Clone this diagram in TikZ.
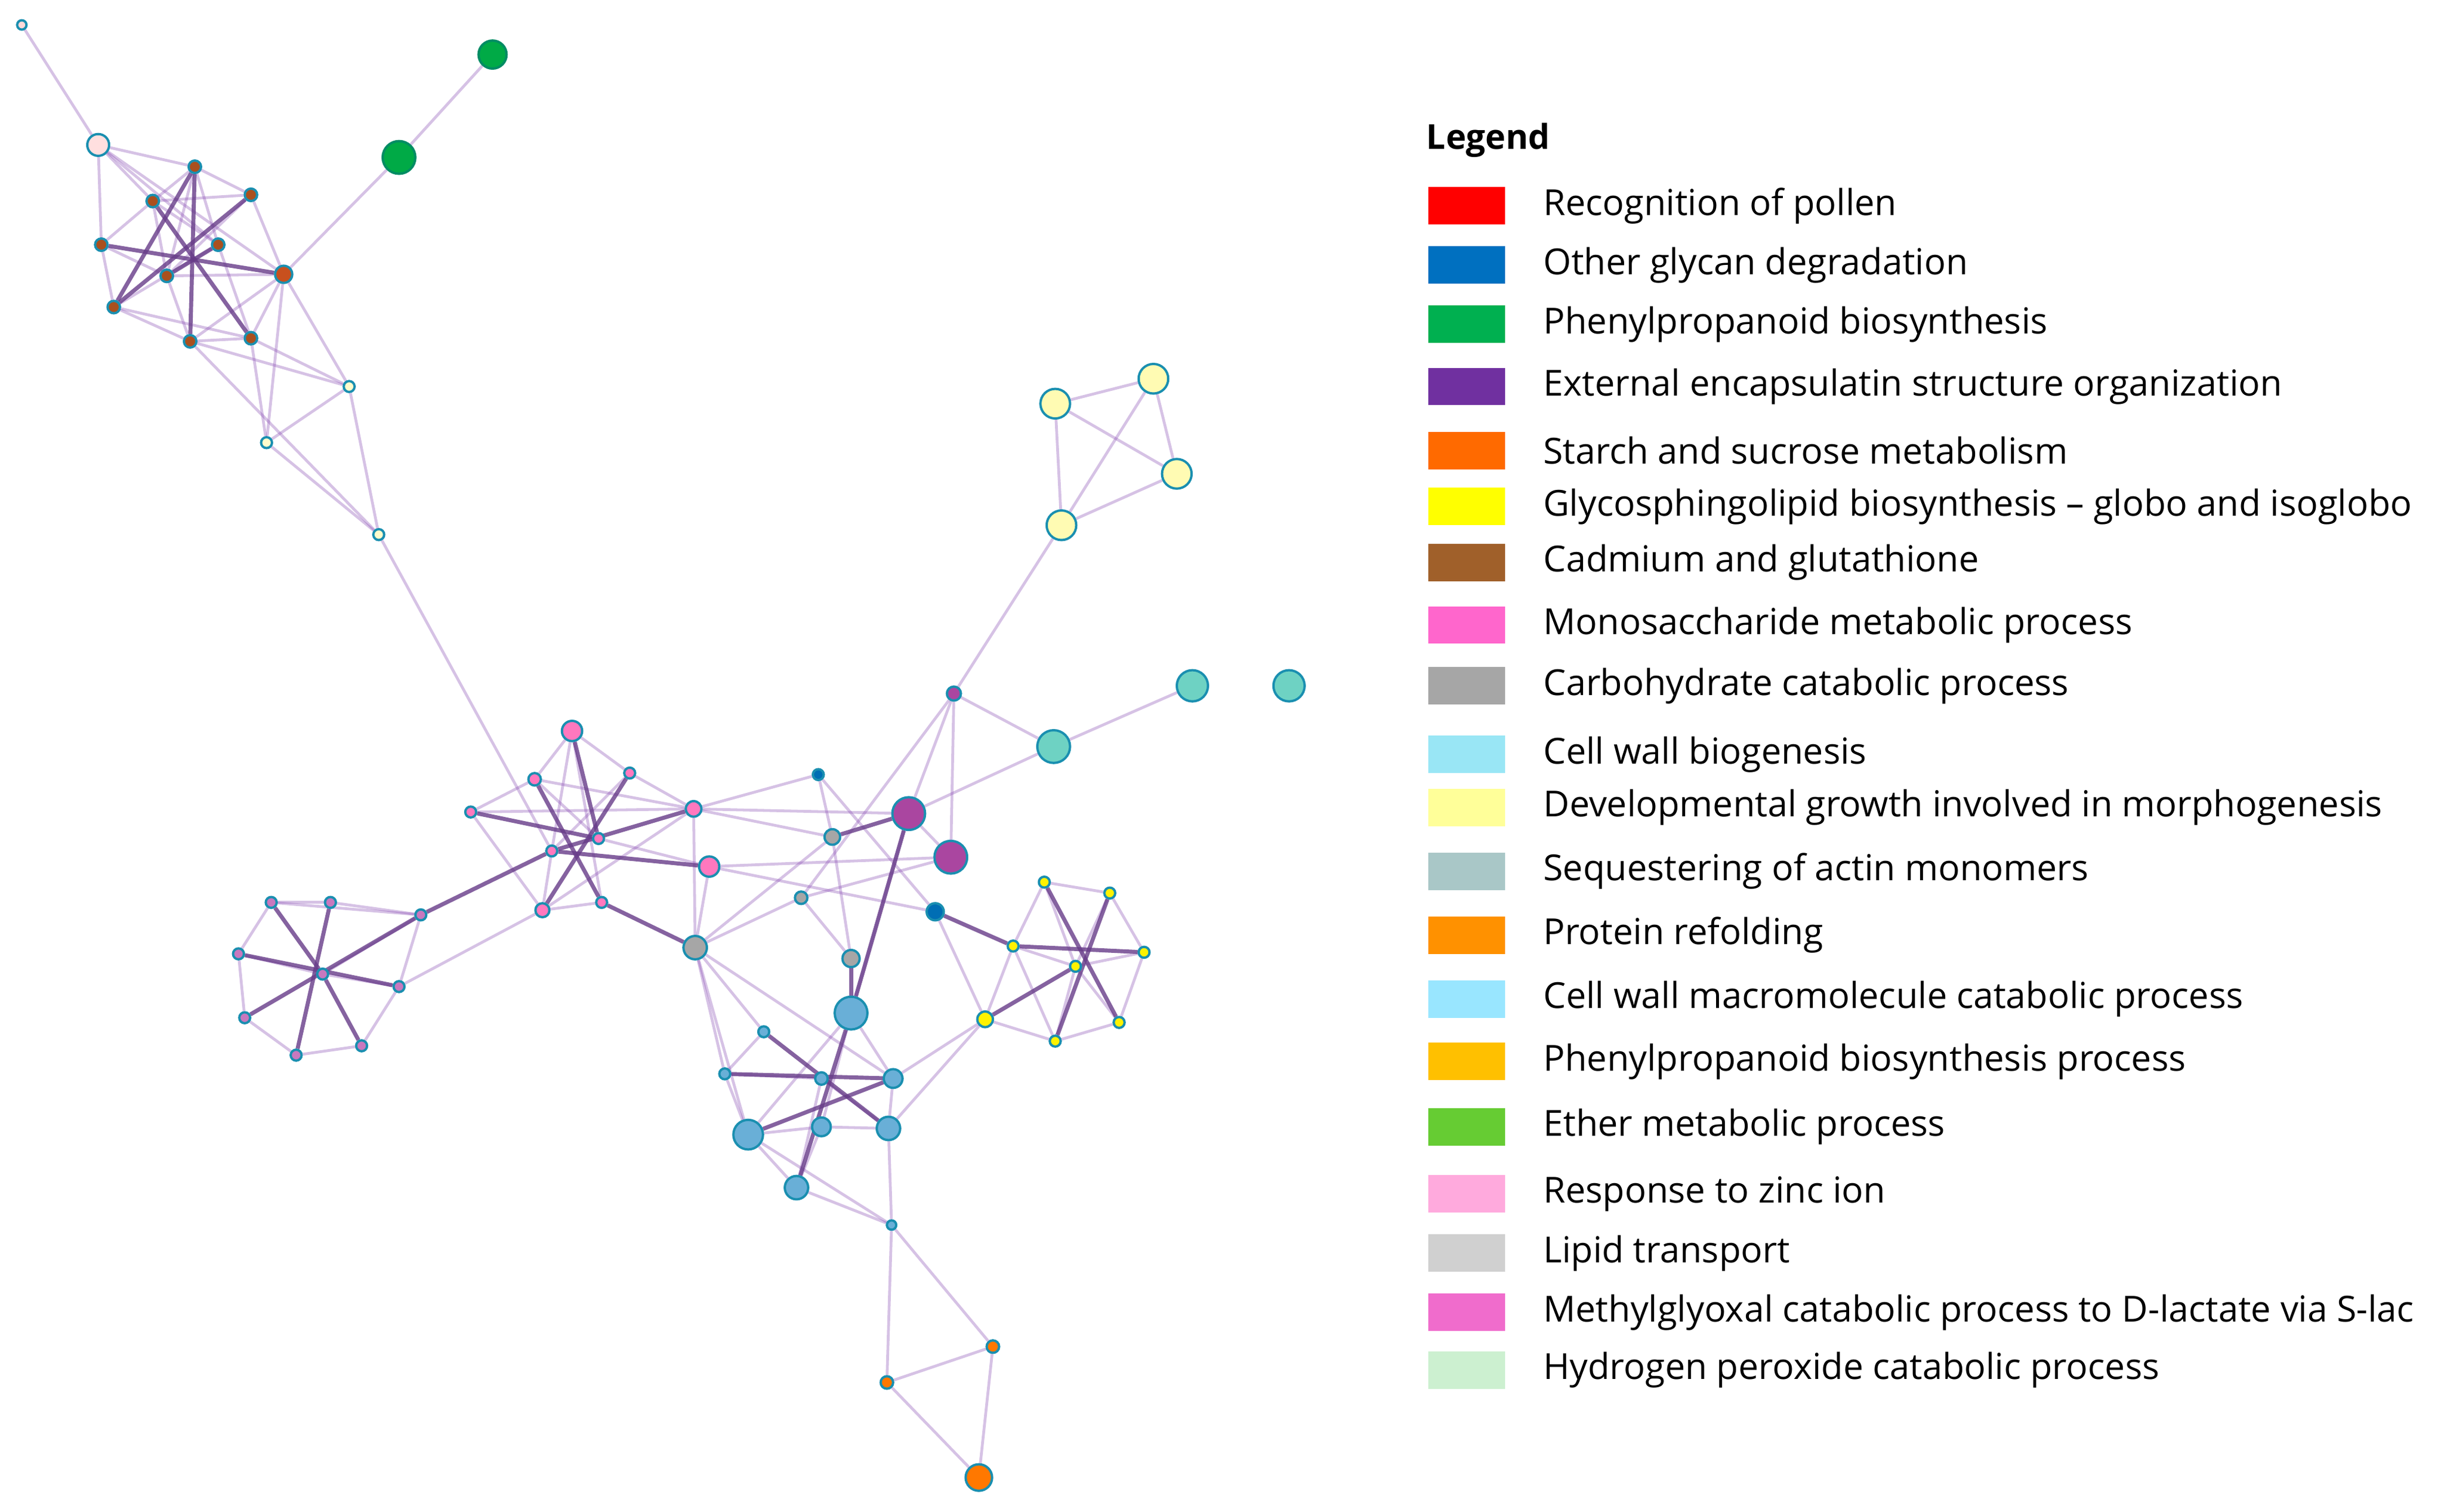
\documentclass[tikz,border=0pt]{standalone}
\usepackage{fontspec}
\setmainfont{Open Sans}
\pgfdeclarelayer{bg}\pgfsetlayers{bg,main}
\begin{document}
\begin{tikzpicture}[x=1pt,y=-1pt,
  nd/.style={circle,draw=bd,line width=1.5pt,inner sep=0pt,minimum size=#1},
  e/.style={draw=ec,line width=1.8pt,opacity=0.35},
  E/.style={draw=ec!75!black,line width=2.6pt,opacity=0.8},
  sw/.style={minimum width=49pt,minimum height=24pt,inner sep=0pt},
  lt/.style={anchor=west,font=\fontsize{23}{27}\selectfont,inner sep=0pt}]
\definecolor{bd}{HTML}{1A8FB0}\definecolor{ec}{HTML}{8A4FB5}
\useasboundingbox (0,0) rectangle (1568,970);
% nodes
\node[nd=6pt,fill=pink!60] (a1) at (14,16) {};
\node[nd=14pt,fill=pink!50] (a2) at (63,93) {};
\node[nd=18pt,fill={rgb,255:red,0;green,170;blue,70},draw={rgb,255:red,0;green,140;blue,100}] (g1) at (316,35) {};
\node[nd=21pt,fill={rgb,255:red,0;green,170;blue,70},draw={rgb,255:red,0;green,140;blue,100}] (g2) at (256,101) {};
\foreach \n/\x/\y in {b1/125/107,b2/161/125,b3/98/129,b4/65/157,b5/140/157,b6/107/177,b7/73/197,b8/122/219,b9/161/217}
  \node[nd=8pt,fill={rgb,255:red,170;green,80;blue,30}] (\n) at (\x,\y) {};
\node[nd=11pt,fill={rgb,255:red,200;green,80;blue,30}] (b10) at (182,176) {};
\foreach \n/\x/\y in {c1/224/248,c2/171/284,c3/243/343}
  \node[nd=7pt,fill=yellow!20] (\n) at (\x,\y) {};
% pink cluster
\node[nd=13pt,fill={rgb,255:red,255;green,120;blue,190}] (p1) at (367,469) {};
\foreach \n/\x/\y/\s in {p2/343/500/8pt,p3/404/496/7pt,p4/302/521/7pt,p6/354/546/7pt,p7/384/538/7pt,p8/348/584/9pt,p9/386/579/7pt}
  \node[nd=\s,fill={rgb,255:red,255;green,120;blue,190}] (\n) at (\x,\y) {};
\node[nd=10pt,fill={rgb,255:red,255;green,120;blue,190}] (p5) at (445,519) {};
\node[nd=13pt,fill={rgb,255:red,255;green,120;blue,190}] (p10) at (455,556) {};
\node[nd=15pt,fill=gray!70] (g) at (446,608) {};
% left cluster
\foreach \n/\x/\y in {l1/174/579,l2/212/579,l3/153/612,l4/207/625,l5/157/653,l6/256/633,l7/190/677,l8/232/671,l9/270/587}
  \node[nd=7pt,fill={rgb,255:red,200;green,120;blue,190}] (\n) at (\x,\y) {};
% centre
\node[nd=7pt,fill={rgb,255:red,0;green,110;blue,180}] (d1) at (525,497) {};
\node[nd=10pt,fill=gray!70] (gr2) at (534,537) {};
\node[nd=8pt,fill=gray!70] (gr3) at (514,576) {};
\node[nd=11pt,fill=gray!70] (gr4) at (546,615) {};
\node[nd=21pt,fill={rgb,255:red,170;green,70;blue,160}] (m1) at (583,522) {};
\node[nd=21pt,fill={rgb,255:red,170;green,70;blue,160}] (m2) at (610,550) {};
\node[nd=9pt,fill={rgb,255:red,170;green,70;blue,160}] (m3) at (612,445) {};
\node[nd=11pt,fill={rgb,255:red,0;green,110;blue,180}] (db) at (600,585) {};
\node[nd=21pt,fill={rgb,255:red,105;green,175;blue,215}] (lb1) at (546,650) {};
\node[nd=21pt,fill={rgb,255:red,110;green,210;blue,195}] (t1) at (676,479) {};
\node[nd=20pt,fill={rgb,255:red,110;green,210;blue,195}] (t2) at (765,440) {};
\node[nd=20pt,fill={rgb,255:red,110;green,210;blue,195}] (t3) at (827,440) {};
\foreach \n/\x/\y in {y1/677/259,y2/740/243,y3/755/304,y4/681/337}
  \node[nd=19pt,fill=yellow!30] (\n) at (\x,\y) {};
\foreach \n/\x/\y in {yc1/670/566,yc2/712/573,yc3/650/607,yc4/690/620,yc5/734/611,yc6/718/656,yc7/677/668}
  \node[nd=7pt,fill=yellow] (\n) at (\x,\y) {};
\node[nd=10pt,fill=yellow] (ybig) at (632,654) {};
\foreach \n/\x/\y/\s in {bl1/490/662/7pt,bl2/465/689/7pt,bl3/527/692/8pt,bl4/573/692/12pt,bl5/480/728/19pt,bl6/527/723/12pt,bl7/570/724/15pt,bl8/511/762/15pt,bl9/572/786/6pt}
  \node[nd=\s,fill={rgb,255:red,105;green,175;blue,215}] (\n) at (\x,\y) {};
\node[nd=8pt,fill={rgb,255:red,255;green,120;blue,0}] (o1) at (637,864) {};
\node[nd=8pt,fill={rgb,255:red,255;green,120;blue,0}] (o2) at (569,887) {};
\node[nd=17pt,fill={rgb,255:red,255;green,120;blue,0}] (o3) at (628,948) {};
% edges
\begin{pgfonlayer}{bg}
\foreach \a/\b in {a1/a2,a2/b1,a2/b3,a2/b4,a2/b5,a2/b10,b1/b2,b2/b10,b10/b9,b9/b8,b8/b7,b7/b4,b4/b3,b3/b1,b1/b5,b6/b2,b3/b6,b3/b5,b4/b6,b5/b7,b1/b6,b6/b10,b3/b2,b5/b9,b6/b8,b10/g2,g2/g1,b10/c1,b10/c2,b8/c1,b9/c2,b9/c1,c1/c2,b7/b9,b8/c3,c1/c3,c2/c3,b8/b10,c3/p6,
  p1/p2,p1/p3,p1/p6,p1/p9,p2/p7,p4/p5,p2/p5,p3/p6,p8/p9,p8/p5,p7/p10,p4/p2,p3/p5,p6/p8,p4/p8,l6/p8,p5/g,p10/g,p5/d1,p10/m2,p5/gr2,p10/db,p5/m1,
  l1/l2,l1/l3,l2/l9,l5/l7,l7/l8,l8/l6,l6/l9,l3/l5,l4/l9,l3/l4,l1/l9,l4/l6,
  g/gr2,g/bl1,g/bl5,g/bl4,g/bl2,g/gr3,d1/db,d1/gr2,m1/m2,m1/m3,m1/t1,m3/t1,m3/m2,m3/gr3,gr2/gr4,gr3/m2,gr3/gr4,lb1/m1,db/ybig,t1/t2,y4/m3,y1/y2,y1/y3,y1/y4,y2/y3,y2/y4,y3/y4,
  yc1/yc2,yc2/yc5,yc5/yc6,yc6/yc7,yc7/yc3,yc3/yc1,ybig/yc3,ybig/yc7,ybig/bl4,ybig/bl7,yc1/yc4,yc2/yc4,yc3/yc4,yc6/yc4,yc7/yc4,yc5/yc4,
  lb1/bl4,lb1/bl5,lb1/bl6,bl3/bl2,bl6/bl5,bl6/bl7,bl8/bl9,bl7/bl9,bl5/bl8,bl1/bl2,bl3/bl7,bl5/bl9,bl2/bl5,bl3/bl8,bl4/bl7,bl6/bl8,
  bl9/o1,bl9/o2,o1/o2,o1/o3,o2/o3}
  \draw[e] (\a) -- (\b);
\foreach \a/\b in {b1/b8,b2/b7,b4/b10,b3/b9,b5/b6,b1/b7,p2/p9,p3/p8,p4/p7,p5/p6,p6/p10,p1/p7,l9/p6,p9/g,
  l1/l4,l2/l7,l3/l6,l5/l9,l4/l8,gr4/lb1,gr2/m1,db/yc3,yc1/yc6,yc2/yc7,yc3/yc5,ybig/yc4,
  lb1/bl8,bl1/bl7,bl2/bl4,bl5/bl4,lb1/m1}
  \draw[E] (\a) -- (\b);
\end{pgfonlayer}
% legend
\node[anchor=west,font=\fontsize{22}{26}\selectfont\bfseries,inner sep=0pt] (leg) at (915,90) {Legend};
\foreach \i/\y/\c/\t in {
 1/132/FF0000/Recognition of pollen,
 2/170/0070C0/Other glycan degradation,
 3/208/00B050/Phenylpropanoid biosynthesis,
 4/248/7030A0/External encapsulatin structure organization,
 5/289/FF6A00/Starch and sucrose metabolism,
 6/325/FFFF00/Glycosphingolipid biosynthesis – globo and isoglobo,
 7/361/A0602A/Cadmium and glutathione,
 8/401/FF66CC/Monosaccharide metabolic process,
 9/440/A6A6A6/Carbohydrate catabolic process,
 10/484/99E6F5/Cell wall biogenesis,
 11/518/FFFF99/Developmental growth involved in morphogenesis,
 12/559/A9C7C7/Sequestering of actin monomers,
 13/600/FF9100/Protein refolding,
 14/641/99E6FF/Cell wall macromolecule catabolic process,
 15/681/FFC000/Phenylpropanoid biosynthesis process,
 16/723/66CC33/Ether metabolic process,
 17/766/FFAADD/Response to zinc ion,
 18/804/D0D0D0/Lipid transport,
 19/842/F06CCC/Methylglyoxal catabolic process to D-lactate via S-lac,
 20/879/CCF0D0/Hydrogen peroxide catabolic process}
{
  \definecolor{cc}{HTML}{\c}
  \node[sw,fill=cc] (s\i) at (941,\y) {};
  \node[lt] (lab\i) at (990,\y) {\t};
}
\end{tikzpicture}
\end{document}
